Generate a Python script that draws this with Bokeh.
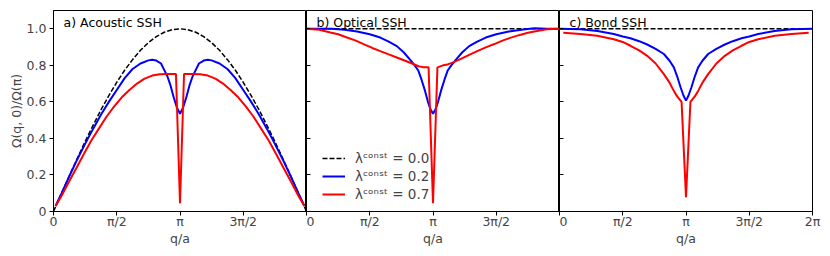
import numpy as np
from bokeh.plotting import figure
from bokeh.models import (FixedTicker, Legend, LegendItem, Label, Range1d)
from bokeh.layouts import row
from bokeh.embed import file_html
from bokeh.resources import INLINE

PI = np.pi
FONT = "DejaVu Sans"
FS = "12.5px"

# ---------------- data (q in units of pi) ----------------
# panel a) Acoustic SSH
a_dash_q = [0, 0.0625, 0.125, 0.1875, 0.25, 0.3125, 0.375, 0.4375, 0.5, 0.5625, 0.625, 0.6875,
            0.75, 0.8125, 0.875, 0.9375, 1.0, 1.0625, 1.125, 1.1875, 1.25, 1.3125, 1.375, 1.4375,
            1.5, 1.5625, 1.625, 1.6875, 1.75, 1.8125, 1.875, 1.9375, 2.0]
a_dash_v = [0, .098, .195, .290, .383, .471, .556, .634, .707, .773, .831, .882, .924, .957, .981,
            .995, 1.0, .995, .981, .957, .924, .882, .831, .773, .707, .634, .556, .471, .383, .290,
            .195, .098, 0]
a_blue_q = [0.016, 0.0625, 0.125, 0.1875, 0.25, 0.3125, 0.375, 0.4375, 0.5, 0.5625, 0.625, 0.6875,
            0.75, 0.78, 0.8125, 0.85, 0.875, 0.9, 0.925, 0.95, 0.975, 1.0,
            1.025, 1.05, 1.075, 1.1, 1.125, 1.15, 1.1875, 1.22, 1.25, 1.3125, 1.375, 1.4375, 1.5,
            1.5625, 1.625, 1.6875, 1.75, 1.8125, 1.875, 1.9375, 1.984]
a_blue_v = [.030, .098, .193, .285, .37, .452, .53, .60, .665, .73, .78, .81, .827, .830, .826, .81,
            .775, .74, .69, .625, .57, .535,
            .57, .625, .69, .74, .775, .81, .826, .830, .827, .81, .78, .73, .665, .60, .53, .452,
            .37, .285, .193, .098, .030]
a_red_q = [0.016, 0.06, 0.12, 0.18, 0.24, 0.30, 0.36, 0.42, 0.48, 0.54, 0.60, 0.66, 0.72, 0.78,
           0.84, 0.90, 0.968, 1.0, 1.032, 1.10, 1.16, 1.22, 1.28, 1.34, 1.40, 1.46, 1.52, 1.58,
           1.64, 1.70, 1.76, 1.82, 1.88, 1.94, 1.984]
a_red_v = [.030, .081, .160, .237, .315, .39, .455, .52, .575, .625, .665, .70, .727, .744, .751,
           .752, .752, .045, .752, .752, .751, .744, .727, .70, .665, .625, .575, .52, .455, .39,
           .315, .237, .160, .081, .030]

# panel b) Optical SSH
b_dash_q = [0, 2.0]
b_dash_v = [1.0, 1.0]
b_blue_q = [0, 0.1, 0.2, 0.3, 0.4, 0.5, 0.583, 0.65, 0.714, 0.77, 0.82, 0.855, 0.885, 0.91, 0.937,
            0.96, 0.98, 1.0, 1.02, 1.04, 1.063, 1.09, 1.115, 1.145, 1.18, 1.23, 1.286, 1.35, 1.417,
            1.5, 1.6, 1.7, 1.8, 1.9, 2.0]
b_blue_v = [1.0, 1.0, 1.0, .995, .985, .97, .952, .93, .905, .87, .83, .80, .77, .72, .66, .60, .56,
            .535, .56, .60, .66, .72, .77, .80, .83, .87, .905, .93, .952, .97, .985, .995, 1.003,
            1.0, 1.0]
b_red_q = [0, 0.1, 0.189, 0.25, 0.32, 0.39, 0.451, 0.52, 0.583, 0.65, 0.714, 0.78, 0.845, 0.885,
           0.92, 0.965, 1.0, 1.035, 1.08, 1.115, 1.155, 1.22, 1.286, 1.35, 1.417, 1.48, 1.549,
           1.61, 1.68, 1.75, 1.811, 1.9, 2.0]
b_red_v = [1.0, .995, .98, .97, .952, .935, .916, .895, .878, .86, .843, .825, .807, .795, .79,
           .789, .045, .789, .80, .805, .815, .835, .857, .878, .898, .915, .935, .95, .965, .978,
           .987, .997, 1.0]

# panel c) Bond SSH
c_dash_q = [0, 2.0]
c_dash_v = [1.0, 1.0]
c_blue_q = [0, 0.166, 0.3, 0.429, 0.5, 0.561, 0.63, 0.693, 0.76, 0.825, 0.87, 0.904, 0.93, 0.957,
            0.98, 1.0, 1.02, 1.043, 1.07, 1.096, 1.13, 1.175, 1.24, 1.307, 1.37, 1.439, 1.5, 1.571,
            1.7, 1.834, 2.0]
c_blue_v = [1.0, .997, .988, .971, .958, .948, .932, .914, .89, .862, .825, .789, .74, .68, .635,
            .607, .635, .68, .74, .789, .825, .862, .89, .914, .932, .948, .958, .971, .988, .997,
            1.0]
c_red_q = [0.03, 0.166, 0.298, 0.429, 0.5, 0.561, 0.63, 0.693, 0.76, 0.825, 0.87, 0.904, 0.93,
           0.965, 1.0, 1.035, 1.07, 1.096, 1.13, 1.175, 1.24, 1.307, 1.37, 1.439, 1.5, 1.571,
           1.702, 1.834, 1.97]
c_red_v = [.978, .971, .962, .943, .928, .907, .882, .852, .81, .752, .705, .66, .63, .60, .078,
           .60, .63, .66, .705, .752, .81, .852, .882, .907, .928, .943, .962, .971, .978]

x_tick_pos = [0, 0.5, 1.0, 1.5, 2.0]
x_tick_lab_inner = ["0", "π/2", "π", "3π/2", ""]
x_tick_lab_last = ["0", "π/2", "π", "3π/2", "2π"]
y_ticks = [0, 0.2, 0.4, 0.6, 0.8, 1.0]
y_tick_lab = ["0", "0.2", "0.4", "0.6", "0.8", "1.0"]
legend_labels = ["λᶜᵒⁿˢᵗ = 0.0", "λᶜᵒⁿˢᵗ = 0.2", "λᶜᵒⁿˢᵗ = 0.7"]
titles = ["a) Acoustic SSH", "b) Optical SSH", "c) Bond SSH"]

HEIGHT = 254
FRAME_W = 253
TOP = 10
BOTTOM = 43


def style_axis(ax):
    ax.major_label_text_font = FONT
    ax.major_label_text_font_size = FS
    ax.axis_label_text_font = FONT
    ax.axis_label_text_font_size = FS
    ax.axis_label_text_font_style = "normal"
    ax.minor_tick_line_color = None
    ax.axis_line_color = "black"
    ax.major_tick_line_color = "black"


def make_panel(idx, left_border, right_border, last):
    width = left_border + FRAME_W + right_border
    p = figure(width=width, height=HEIGHT, x_range=Range1d(0, 2 * PI), y_range=Range1d(0, 1.1),
               output_backend="svg", toolbar_location=None,
               min_border_left=left_border, min_border_right=right_border,
               min_border_top=TOP, min_border_bottom=BOTTOM)
    p.outline_line_color = "black"
    p.outline_line_width = 1
    p.xgrid.visible = False
    p.ygrid.visible = False

    xa = p.xaxis[0]
    xa.ticker = FixedTicker(ticks=[t * PI for t in x_tick_pos])
    labs = x_tick_lab_last if last else x_tick_lab_inner
    xa.major_label_overrides = {t * PI: l for t, l in zip(x_tick_pos, labs)}
    xa.axis_label = "q/a"
    xa.major_tick_out = 4
    xa.major_tick_in = 0
    xa.major_label_standoff = -2
    xa.axis_label_standoff = -1
    style_axis(xa)

    ya = p.yaxis[0]
    ya.ticker = FixedTicker(ticks=y_ticks)
    if idx == 0:
        ya.major_label_overrides = {t: l for t, l in zip(y_ticks, y_tick_lab)}
        ya.axis_label = "Ω(q, 0)/Ω(π)"
        ya.major_tick_out = 4
        ya.major_tick_in = 0
        ya.major_label_standoff = 3
        ya.axis_label_standoff = 0
    else:
        # shared y-axis: ticks only, no labels
        ya.major_label_overrides = {t: "" for t in y_ticks}
        ya.major_tick_out = 0
        ya.major_tick_in = 4
        ya.major_label_standoff = 0
    style_axis(ya)
    return p


data = [
    (a_dash_q, a_dash_v, a_blue_q, a_blue_v, a_red_q, a_red_v),
    (b_dash_q, b_dash_v, b_blue_q, b_blue_v, b_red_q, b_red_v),
    (c_dash_q, c_dash_v, c_blue_q, c_blue_v, c_red_q, c_red_v),
]

panels = []
for i, (dq, dv, bq, bv, rq, rv) in enumerate(data):
    if i == 0:
        p = make_panel(i, 53, 0, False)
    elif i == 1:
        p = make_panel(i, 0, 0, False)
    else:
        p = make_panel(i, 0, 12, True)
    rd = p.line(x=[q * PI for q in dq], y=dv, line_color="black", line_width=1.5,
                line_dash="5 2")
    rb = p.line(x=[q * PI for q in bq], y=bv, line_color="#0000ff", line_width=2)
    rr = p.line(x=[q * PI for q in rq], y=rv, line_color="#ff0000", line_width=2)
    p.add_layout(Label(x=0.25, y=1.034, text=titles[i], text_font=FONT, text_font_size=FS,
                       text_baseline="alphabetic", text_color="black"))
    if i == 1:
        leg = Legend(items=[LegendItem(label=legend_labels[0], renderers=[rd]),
                            LegendItem(label=legend_labels[1], renderers=[rb]),
                            LegendItem(label=legend_labels[2], renderers=[rr])],
                     location=(16, 9))
        leg.padding = 0
        leg.margin = 0
        leg.border_line_alpha = 0
        leg.background_fill_alpha = 0
        leg.glyph_width = 23
        leg.glyph_height = 16
        leg.label_standoff = 10
        leg.spacing = 2
        leg.label_text_font = FONT
        leg.label_text_font_size = "13.5px"
        p.add_layout(leg)
    panels.append(p)

layout = row(*panels)
open("out.html", "w").write(file_html(layout, INLINE))
